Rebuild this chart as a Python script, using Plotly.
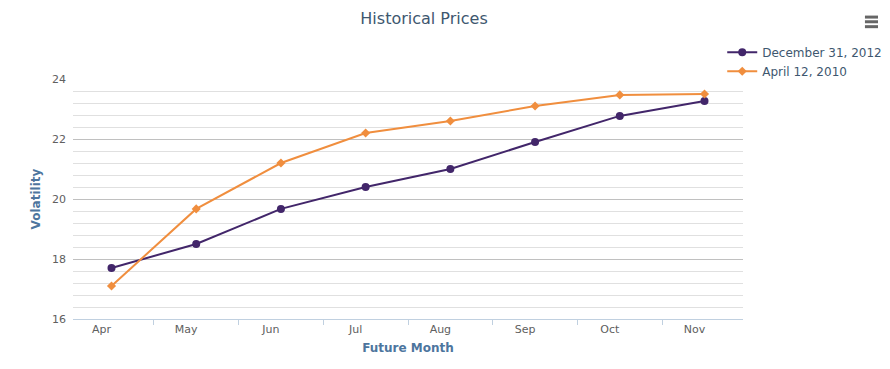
import plotly.graph_objects as go

months = ["Apr", "May", "Jun", "Jul", "Aug", "Sep", "Oct", "Nov"]
dec_2012 = [17.7, 18.5, 19.67, 20.4, 21.0, 21.9, 22.77, 23.27]
apr_2010 = [17.1, 19.67, 21.2, 22.2, 22.6, 23.1, 23.47, 23.5]
y_ticks = [16, 18, 20, 22, 24]

PURPLE = "#42266a"
ORANGE = "#f08e3e"
FONT = "DejaVu Sans"

fig = go.Figure()
fig.add_trace(go.Scatter(
    x=months, y=dec_2012, name="December 31, 2012", mode="lines+markers",
    line=dict(color=PURPLE, width=2),
    marker=dict(symbol="circle", size=8, color=PURPLE),
))
fig.add_trace(go.Scatter(
    x=months, y=apr_2010, name="April 12, 2010", mode="lines+markers",
    line=dict(color=ORANGE, width=2),
    marker=dict(symbol="diamond", size=7, color=ORANGE),
))

# the page body adds an 8px offset, so the figure is sized to fit the window
fig.update_layout(
    width=882, height=361,
    margin=dict(l=65, r=147, t=71, b=50, autoexpand=False),
    paper_bgcolor="white", plot_bgcolor="white",
    font=dict(family=FONT, size=11, color="#606060"),
    title=dict(text="Historical Prices", x=0.4717, xanchor="center", y=0.972, yanchor="middle",
               font=dict(family=FONT, size=16, color="#3e576f")),
    showlegend=True,
    legend=dict(x=0.969, y=1.172, xanchor="left", yanchor="top",
                font=dict(family=FONT, size=12, color="#3e576f"),
                bgcolor="rgba(0,0,0,0)", tracegroupgap=0, itemwidth=30),
    xaxis=dict(
        type="category", tickson="boundaries", ticks="outside", ticklen=5,
        tickcolor="#c0d0e0", showline=True, linecolor="#c0d0e0", linewidth=1,
        showgrid=False, zeroline=False, ticklabelshift=-10,
        tickfont=dict(family=FONT, size=11, color="#606060"),
        title=dict(text="<b>Future Month</b>", standoff=8,
                   font=dict(family=FONT, size=12, color="#4d759e")),
    ),
    yaxis=dict(
        range=[16, 24], tickvals=y_ticks, showline=False, zeroline=False,
        showgrid=True, gridcolor="#c0c0c0", gridwidth=1,
        ticks="", ticklabelstandoff=6,
        tickfont=dict(family=FONT, size=11, color="#606060"),
        minor=dict(dtick=0.4, showgrid=True, gridcolor="#e0e0e0", gridwidth=1),
        title=dict(text="<b>Volatility</b>", standoff=8,
                   font=dict(family=FONT, size=12, color="#4d759e")),
    ),
)

# hamburger menu icon
for yy in [1.258, 1.2385, 1.218]:
    fig.add_shape(type="line", xref="paper", yref="paper",
                  x0=1.182, x1=1.2015, y0=yy, y1=yy,
                  line=dict(color="#666666", width=3))

fig.write_html("out.html")
